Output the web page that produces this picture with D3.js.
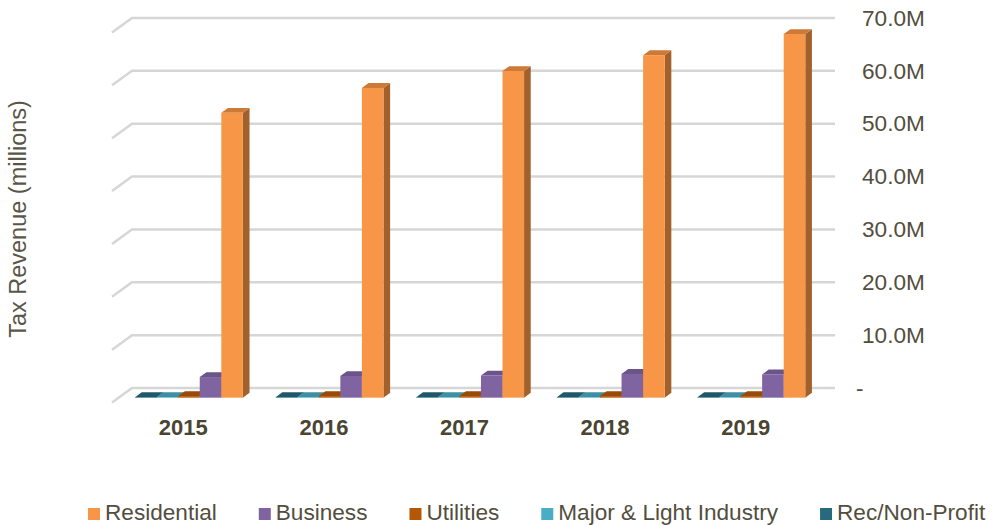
<!DOCTYPE html>
<html>
<head>
<meta charset="utf-8">
<script src="https://cdn.jsdelivr.net/npm/d3@7"></script>
<style>
  body { margin: 0; background: #fff; }
  text { font-family: "Liberation Sans", Arial, sans-serif; fill: #524e3e; }
</style>
</head>
<body>
<svg id="chart" width="994" height="525"></svg>
<script>
// data (millions)
var years = ["2015", "2016", "2017", "2018", "2019"];
var residential = [53.9, 58.6, 61.8, 64.8, 68.8];
var business = [3.9, 4.1, 4.2, 4.5, 4.4];
var utilities = [0.3, 0.3, 0.3, 0.3, 0.3];
var majorLight = [0.1, 0.1, 0.1, 0.1, 0.1];
var recNonProfit = [0.1, 0.1, 0.1, 0.1, 0.1];
var yTicks = [0, 10, 20, 30, 40, 50, 60, 70];
var legendOrder = ["Residential", "Business", "Utilities", "Major & Light Industry", "Rec/Non-Profit"];

// bars drawn left to right inside each year
var series = [
    { name: "Rec/Non-Profit", values: recNonProfit, front: "#266a7c", top: "#1f5868", side: "#184652" },
    { name: "Major & Light Industry", values: majorLight, front: "#4bacc6", top: "#3d8fa4", side: "#327585" },
    { name: "Utilities", values: utilities, front: "#b65708", top: "#9a4a07", side: "#7d3c05" },
    { name: "Business", values: business, front: "#8064a2", top: "#6b5489", side: "#5a4674" },
    { name: "Residential", values: residential, front: "#f79646", top: "#cd7a38", side: "#a2612c" }
];

var svg = d3.select("#chart");

// 3d box: back wall from x 132 to 835, floor depth offset
var wallLeft = 132, wallRight = 835;
var DX = 20, DY = 14.5;

var y = d3.scaleLinear().domain([0, 70]).range([388, 18]);

var x0 = d3.scaleBand().domain(years).range([0, wallRight - wallLeft]);
var gap = 16.4;
var x1 = d3.scaleBand().domain(series.map(function(s) { return s.name; }))
    .range([gap, x0.bandwidth() - gap]);

// gridlines on back wall + side wall
svg.append("g").selectAll("path")
    .data(yTicks)
    .enter().append("path")
    .attr("d", function(v) {
        var yy = y(v);
        return "M" + (wallLeft - DX) + "," + (yy + DY) + "L" + wallLeft + "," + yy + "L" + wallRight + "," + yy;
    })
    .attr("fill", "none")
    .attr("stroke", "#d6d6d6")
    .attr("stroke-width", 2.5);

// point at depth f (0 = front of floor, 1 = back wall)
function px(u, f) { return wallLeft + u - (1 - f) * DX; }
function py(v, f) { return y(v) + (1 - f) * DY; }

var fFront = 1 / 3, fBack = 2 / 3;
var w = x1.bandwidth();

var bars = svg.append("g");
years.forEach(function(yr, i) {
    series.forEach(function(s) {
        var v = s.values[i];
        var u = x0(yr) + x1(s.name);
        var xf = px(u, fFront), xb = px(u, fBack);
        var g = bars.append("g");
        g.append("path")
            .attr("d", "M" + (xf + w) + "," + py(v, fFront) + "L" + (xb + w) + "," + py(v, fBack) +
                "L" + (xb + w) + "," + py(0, fBack) + "L" + (xf + w) + "," + py(0, fFront) + "Z")
            .attr("fill", s.side);
        g.append("path")
            .attr("d", "M" + xf + "," + py(v, fFront) + "L" + (xf + w) + "," + py(v, fFront) +
                "L" + (xb + w) + "," + py(v, fBack) + "L" + xb + "," + py(v, fBack) + "Z")
            .attr("fill", s.top);
        g.append("rect")
            .attr("x", xf)
            .attr("y", py(v, fFront))
            .attr("width", w)
            .attr("height", py(0, fFront) - py(v, fFront))
            .attr("fill", s.front);
    });
});

// category labels
svg.append("g").selectAll("text")
    .data(years)
    .enter().append("text")
    .attr("x", function(d) { return px(x0(d) + x0.bandwidth() / 2, 0) + 1; })
    .attr("y", 435)
    .attr("text-anchor", "middle")
    .style("font-size", "22px")
    .style("font-weight", "bold")
    .style("fill", "#4a4532")
    .text(function(d) { return d; });

// right value axis
var yAxis = d3.axisRight(y)
    .tickValues(yTicks)
    .tickSize(0)
    .tickPadding(0)
    .tickFormat(function(v) { return v === 0 ? "-" : v.toFixed(1) + "M"; });

var ax = svg.append("g")
    .attr("transform", "translate(862,0)")
    .call(yAxis);
ax.select(".domain").remove();
ax.selectAll("text")
    .style("font-size", "22.6px")
    .style("font-family", "'Liberation Sans', Arial, sans-serif")
    .attr("fill", "#524e3e")
    .attr("dx", function(v) { return v === 0 ? -6 : 0; });

// axis title
svg.append("text")
    .attr("transform", "translate(26,219) rotate(-90)")
    .attr("text-anchor", "middle")
    .style("font-size", "23.5px")
    .style("fill", "#595648")
    .text("Tax Revenue (millions)");

// legend
var colorOf = {};
series.forEach(function(s) { colorOf[s.name] = s.front; });
var lx = 88;
var legend = svg.append("g");
legendOrder.forEach(function(name) {
    legend.append("rect")
        .attr("x", lx).attr("y", 508)
        .attr("width", 12).attr("height", 12)
        .attr("fill", colorOf[name]);
    var t = legend.append("text")
        .attr("x", lx + 17).attr("y", 520)
        .style("font-size", "22.6px")
        .text(name);
    lx += 17 + t.node().getComputedTextLength() + 42;
});
</script>
</body>
</html>
